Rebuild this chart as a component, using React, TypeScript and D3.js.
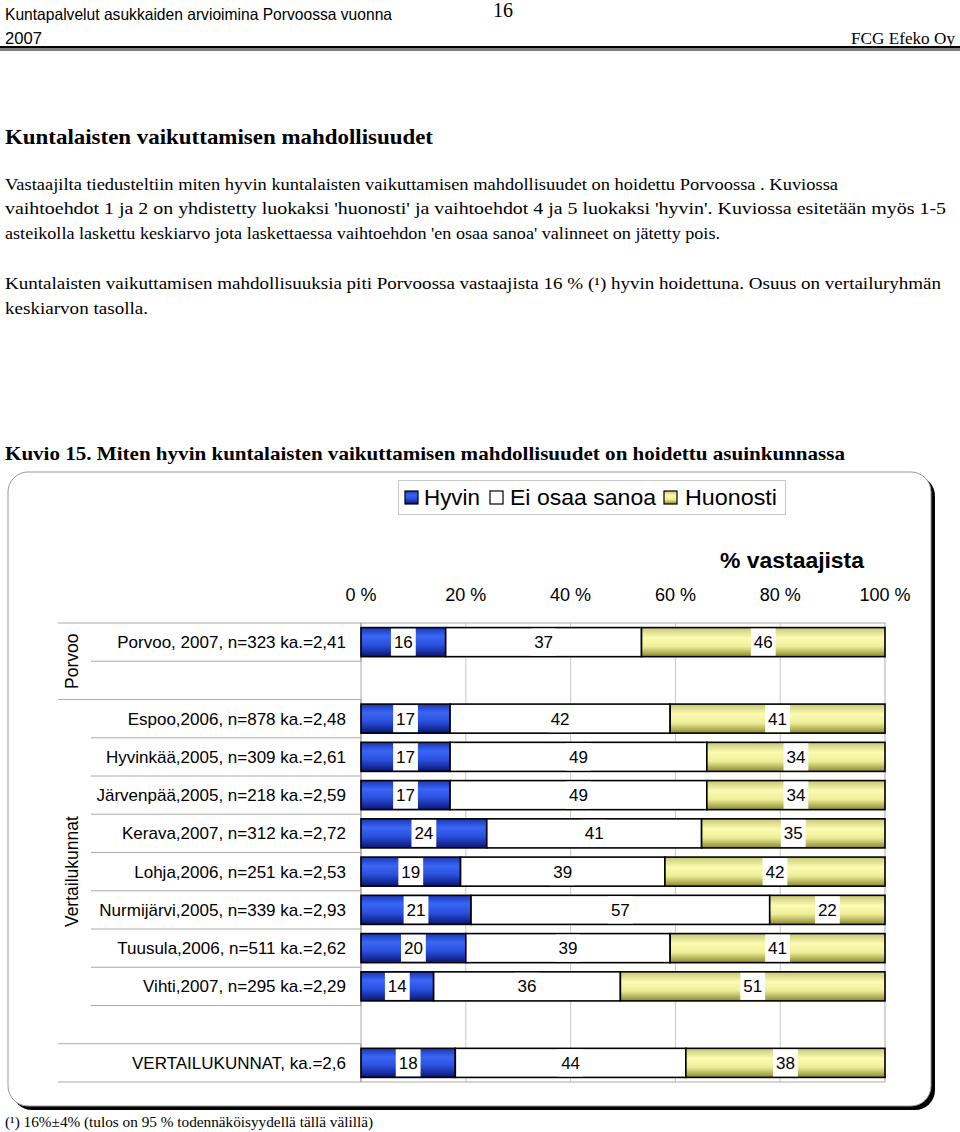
import React from "react";
import * as d3 from "d3";

const categories = [
  "Porvoo, 2007, n=323 ka.=2,41",
  "",
  "Espoo,2006, n=878 ka.=2,48",
  "Hyvinkää,2005, n=309 ka.=2,61",
  "Järvenpää,2005, n=218 ka.=2,59",
  "Kerava,2007, n=312 ka.=2,72",
  "Lohja,2006, n=251 ka.=2,53",
  "Nurmijärvi,2005, n=339 ka.=2,93",
  "Tuusula,2006, n=511 ka.=2,62",
  "Vihti,2007, n=295 ka.=2,29",
  "",
  "VERTAILUKUNNAT, ka.=2,6",
];
const hyvin: (number | null)[] = [16, null, 17, 17, 17, 24, 19, 21, 20, 14, null, 18];
const eiOsaaSanoa: (number | null)[] = [37, null, 42, 49, 49, 41, 39, 57, 39, 36, null, 44];
const huonosti: (number | null)[] = [46, null, 41, 34, 34, 35, 42, 22, 41, 51, null, 38];
const seriesNames = ["Hyvin", "Ei osaa sanoa", "Huonosti"];
const groups = [
  { name: "Porvoo", start: 0, end: 2 },
  { name: "Vertailukunnat", start: 2, end: 11 },
  { name: "", start: 11, end: 12 },
];
const xTicks = [0, 20, 40, 60, 80, 100];

const W = 960;
const H = 1132;
const serif = "'Liberation Serif', 'Times New Roman', serif";
const sans = "'Liberation Sans', Arial, sans-serif";
const narrow = "'Liberation Sans Narrow', 'Arial Narrow', 'Liberation Sans', sans-serif";

export default function App() {
  const x = d3.scaleLinear().domain([0, 100]).range([361, 885]);
  const slot = d3.scaleLinear().domain([0, categories.length]).range([623, 1082]);
  const y = d3
    .scaleBand<number>()
    .domain(d3.range(categories.length))
    .range([623, 1082])
    .paddingInner(0.24)
    .paddingOuter(0.12);

  const fills = ["url(#gBlue)", "#ffffff", "url(#gYellow)"];
  const series = [hyvin, eiOsaaSanoa, huonosti];

  const rows = categories.map((c, i) => {
    const vals = series.map((s) => s[i]);
    if (vals[0] == null) return null;
    const total = d3.sum(vals as number[]);
    let acc = 0;
    const segs = (vals as number[]).map((v, k) => {
      const x0 = x((acc / total) * 100);
      acc += v;
      const x1 = x((acc / total) * 100);
      return { v, k, x0, x1 };
    });
    return { i, segs };
  });

  const innerBounds = d3.range(1, categories.length).filter(
    (b) => !groups.some((g) => g.start === b)
  );
  const groupBounds = Array.from(new Set(groups.flatMap((g) => [g.start, g.end])));

  const paragraph = [
    { t: "Vastaajilta tiedusteltiin miten hyvin kuntalaisten vaikuttamisen mahdollisuudet on hoidettu Porvoossa . Kuviossa", y: 190, w: 833 },
    { t: "vaihtoehdot 1 ja 2 on yhdistetty luokaksi 'huonosti' ja vaihtoehdot 4 ja 5 luokaksi 'hyvin'. Kuviossa esitetään myös 1-5", y: 214, w: 941 },
    { t: "asteikolla laskettu keskiarvo jota laskettaessa vaihtoehdon 'en osaa sanoa' valinneet on jätetty pois.", y: 239, w: 715 },
    { t: "Kuntalaisten vaikuttamisen mahdollisuuksia piti Porvoossa vastaajista 16 % (¹) hyvin hoidettuna. Osuus on vertailuryhmän", y: 289, w: 936 },
    { t: "keskiarvon tasolla.", y: 314, w: 143 },
  ];

  const legendItems = [
    { name: seriesNames[0], fill: fills[0], sx: 405, tx: 424, w: 56 },
    { name: seriesNames[1], fill: fills[1], sx: 490, tx: 510, w: 146 },
    { name: seriesNames[2], fill: fills[2], sx: 664, tx: 685, w: 92 },
  ];

  return (
    <svg
      width={W}
      height={H}
      style={{ position: "absolute", left: 0, top: 0, background: "#fff" }}
      xmlns="http://www.w3.org/2000/svg"
    >
      <defs>
        <linearGradient id="gBlue" x1="0" y1="0" x2="0" y2="1">
          <stop offset="0" stopColor="#1a36b8" />
          <stop offset="0.3" stopColor="#3a66f4" />
          <stop offset="0.6" stopColor="#2a50e0" />
          <stop offset="1" stopColor="#0a1670" />
        </linearGradient>
        <linearGradient id="gYellow" x1="0" y1="0" x2="0" y2="1">
          <stop offset="0" stopColor="#c8c878" />
          <stop offset="0.35" stopColor="#fbfbb2" />
          <stop offset="0.65" stopColor="#eeee98" />
          <stop offset="1" stopColor="#8a8a30" />
        </linearGradient>
      </defs>
      <rect x={0} y={0} width={W} height={H} fill="#fff" />

      {/* Header */}
      <text x={5} y={20} fontFamily={narrow} fontSize={16.5} textLength={387} lengthAdjust="spacingAndGlyphs">
        Kuntapalvelut asukkaiden arvioimina Porvoossa vuonna
      </text>
      <text x={493} y={17} fontFamily={serif} fontSize={20}>16</text>
      <text x={5} y={44} fontFamily={narrow} fontSize={16.5} textLength={37} lengthAdjust="spacingAndGlyphs">2007</text>
      <text x={955} y={44} fontFamily={serif} fontSize={17} textAnchor="end" textLength={104} lengthAdjust="spacingAndGlyphs">FCG Efeko Oy</text>
      <rect x={0} y={46} width={W} height={2.5} fill="#000" />
      <rect x={0} y={49.5} width={W} height={1} fill="#000" />

      {/* Title and text */}
      <text x={5} y={144} fontFamily={serif} fontSize={21} fontWeight="bold" textLength={428} lengthAdjust="spacingAndGlyphs">
        Kuntalaisten vaikuttamisen mahdollisuudet
      </text>
      {paragraph.map((p, i) => (
        <text key={i} x={5} y={p.y} fontFamily={serif} fontSize={16} textLength={p.w} lengthAdjust="spacingAndGlyphs">
          {p.t}
        </text>
      ))}
      <text x={5} y={460} fontFamily={serif} fontSize={19.5} fontWeight="bold" textLength={840} lengthAdjust="spacingAndGlyphs">
        Kuvio 15. Miten hyvin kuntalaisten vaikuttamisen mahdollisuudet on hoidettu asuinkunnassa
      </text>

      {/* Chart frame */}
      <rect x={12} y={476} width={923} height={634} rx={20} ry={20} fill="#000" />
      <rect x={8} y={472} width={923} height={634} rx={20} ry={20} fill="#fff" stroke="#999" strokeWidth={1} />

      {/* Legend */}
      <rect x={398.5} y={480.5} width={387} height={34} fill="#fff" stroke="#c8c8c8" strokeWidth={1} />
      {legendItems.map((l) => (
        <g key={l.name}>
          <rect x={l.sx} y={491} width={13} height={13} fill={l.fill} stroke="#000" strokeWidth={1.2} />
          <text x={l.tx} y={505} fontFamily={sans} fontSize={21.5} textLength={l.w} lengthAdjust="spacingAndGlyphs">
            {l.name}
          </text>
        </g>
      ))}

      {/* Axis title and ticks */}
      <text x={864} y={568} fontFamily={sans} fontSize={22} fontWeight="bold" textAnchor="end" textLength={144} lengthAdjust="spacingAndGlyphs">
        % vastaajista
      </text>
      {xTicks.map((t) => (
        <text key={t} x={x(t)} y={601} fontFamily={sans} fontSize={18} textAnchor="middle">
          {t} %
        </text>
      ))}

      {/* Gridlines and plot border */}
      {xTicks.slice(1, -1).map((t) => (
        <line key={t} x1={x(t)} x2={x(t)} y1={slot(0)} y2={slot(categories.length)} stroke="#c8c8c8" strokeWidth={1} />
      ))}
      <rect x={x(0)} y={slot(0)} width={x(100) - x(0)} height={slot(categories.length) - slot(0)} fill="none" stroke="#aaa" strokeWidth={1} />

      {/* Category axis lines */}
      {innerBounds.map((b) => (
        <line key={"ib" + b} x1={91} x2={x(0)} y1={slot(b)} y2={slot(b)} stroke="#aaa" strokeWidth={1} />
      ))}
      {groupBounds.map((b) => (
        <line key={"gb" + b} x1={58} x2={x(0)} y1={slot(b)} y2={slot(b)} stroke="#aaa" strokeWidth={1} />
      ))}
      {rows.map((r) =>
        r ? (
          <line key={"ax" + r.i} x1={x(0)} x2={x(0)} y1={slot(r.i)} y2={slot(r.i + 1)} stroke="#999" strokeWidth={1} />
        ) : null
      )}
      {groups.map((g) =>
        g.name ? (
          <text
            key={g.name}
            transform={`translate(78, ${(slot(g.start) + slot(g.end)) / 2}) rotate(-90)`}
            fontFamily={sans}
            fontSize={17.5}
            textAnchor="middle"
          >
            {g.name}
          </text>
        ) : null
      )}
      {categories.map((c, i) =>
        c ? (
          <text key={"c" + i} x={346} y={(y(i) as number) + y.bandwidth() / 2 + 6} fontFamily={sans} fontSize={17} textAnchor="end">
            {c}
          </text>
        ) : null
      )}

      {/* Bars */}
      {rows.map((r) =>
        r ? (
          <g key={"r" + r.i}>
            {r.segs.map((s) => (
              <rect
                key={s.k}
                x={s.x0}
                y={y(r.i) as number}
                width={s.x1 - s.x0}
                height={y.bandwidth()}
                fill={fills[s.k]}
                stroke="#000"
                strokeWidth={1.6}
              />
            ))}
            {r.segs.map((s) => {
              const cx = (s.x0 + s.x1) / 2;
              const bw = String(s.v).length * 9.4 + 6;
              const yy = y(r.i) as number;
              return (
                <g key={"l" + s.k}>
                  <rect x={cx - bw / 2} y={yy + 1} width={bw} height={y.bandwidth() - 2} fill="#fff" />
                  <text x={cx} y={yy + y.bandwidth() / 2 + 6} fontFamily={sans} fontSize={17} textAnchor="middle">
                    {s.v}
                  </text>
                </g>
              );
            })}
          </g>
        ) : null
      )}

      {/* Footnote */}
      <text x={5} y={1127} fontFamily={serif} fontSize={14} textLength={368} lengthAdjust="spacingAndGlyphs">
        (¹) 16%±4% (tulos on 95 % todennäköisyydellä tällä välillä)
      </text>
    </svg>
  );
}
